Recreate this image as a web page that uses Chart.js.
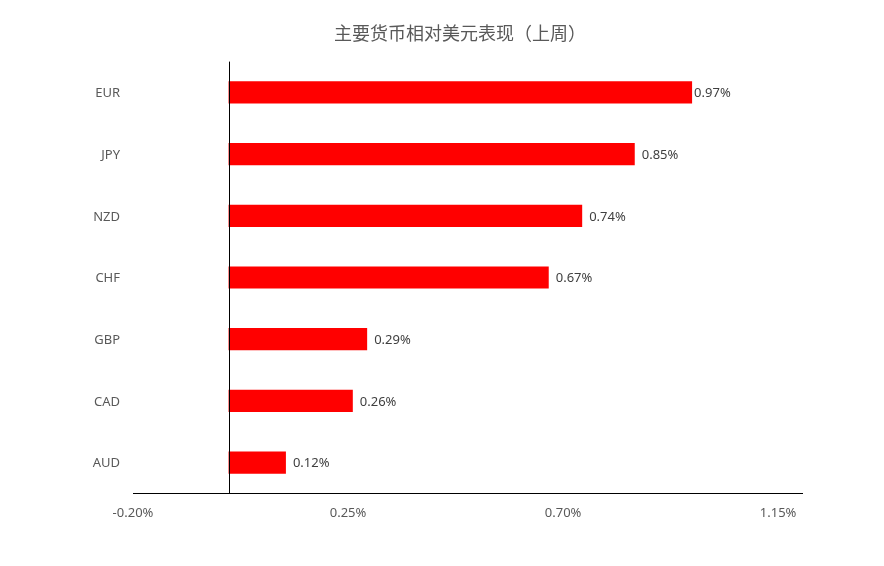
<!DOCTYPE html>
<html>
<head>
<meta charset="utf-8">
<script src="https://cdn.jsdelivr.net/npm/chart.js@4/dist/chart.umd.min.js"></script>
<style>
  html, body { margin: 0; padding: 0; background: #fff; }
  #wrap { width: 884px; height: 566px; }
</style>
</head>
<body>
<div id="wrap"><canvas id="fxChart"></canvas></div>
<script>
const currencies = ['EUR', 'JPY', 'NZD', 'CHF', 'GBP', 'CAD', 'AUD'];
const weeklyChange = [0.97, 0.85, 0.74, 0.67, 0.29, 0.26, 0.12];
const tickValues = [-0.2, 0.25, 0.7, 1.15];
const tickLabels = ['-0.20%', '0.25%', '0.70%', '1.15%'];

const FONT = '"Noto Sans", "Noto Sans CJK SC", sans-serif';

// vertical line at zero, Excel style
const zeroLine = {
  id: 'zeroLine',
  afterDatasetsDraw(chart) {
    const { ctx, chartArea, scales } = chart;
    const x = Math.round(scales.x.getPixelForValue(0)) + 0.5;
    ctx.save();
    ctx.strokeStyle = '#000';
    ctx.lineWidth = 1;
    ctx.beginPath();
    ctx.moveTo(x, chartArea.top);
    ctx.lineTo(x, chartArea.bottom);
    ctx.stroke();
    ctx.restore();
  }
};

// category names sit left of the plot, right-aligned
const categoryLabels = {
  id: 'categoryLabels',
  afterDraw(chart) {
    const { ctx, chartArea, scales } = chart;
    ctx.save();
    ctx.font = '13px ' + FONT;
    ctx.fillStyle = '#595959';
    ctx.textAlign = 'right';
    ctx.textBaseline = 'middle';
    chart.data.labels.forEach((name, i) => {
      ctx.fillText(name, chartArea.left - 13, scales.y.getPixelForValue(i) + 1);
    });
    ctx.restore();
  }
};

const valueLabels = {
  id: 'valueLabels',
  afterDatasetsDraw(chart) {
    const { ctx } = chart;
    const meta = chart.getDatasetMeta(0);
    ctx.save();
    ctx.font = '13px ' + FONT;
    ctx.fillStyle = '#404040';
    ctx.textAlign = 'left';
    ctx.textBaseline = 'middle';
    meta.data.forEach((bar, i) => {
      const v = chart.data.datasets[0].data[i];
      const gap = i === 0 ? 2 : 7;
      ctx.fillText(v.toFixed(2) + '%', bar.x + gap, bar.y + 1);
    });
    ctx.restore();
  }
};

new Chart(document.getElementById('fxChart'), {
  type: 'bar',
  data: {
    labels: currencies,
    datasets: [{
      data: weeklyChange,
      backgroundColor: '#ff0000',
      borderWidth: 0,
      barPercentage: 0.72,
      categoryPercentage: 0.5
    }]
  },
  options: {
    indexAxis: 'y',
    responsive: true,
    maintainAspectRatio: false,
    animation: false,
    layout: { padding: { left: 118, right: 82, top: 0, bottom: 33 } },
    plugins: {
      legend: { display: false },
      tooltip: { enabled: false },
      title: {
        display: true,
        text: '主要货币相对美元表现（上周）',
        color: '#595959',
        font: { family: '"Noto Sans CJK SC", sans-serif', size: 18, weight: 'normal' },
        padding: { top: 22, bottom: 18 }
      }
    },
    scales: {
      x: {
        min: -0.2,
        max: 1.2,
        afterBuildTicks(scale) {
          scale.ticks = tickValues.map((value) => ({ value }));
        },
        grid: { display: false, drawTicks: false },
        border: { display: true, color: '#000', width: 1 },
        ticks: {
          padding: 12,
          color: '#595959',
          font: { family: FONT, size: 13 },
          callback: (value, index) => tickLabels[index]
        }
      },
      y: {
        afterFit(scale) { scale.width = 15; },
        grid: { display: false, drawTicks: false },
        border: { display: false },
        ticks: { display: false }
      }
    }
  },
  plugins: [zeroLine, categoryLabels, valueLabels]
});
</script>
</body>
</html>
